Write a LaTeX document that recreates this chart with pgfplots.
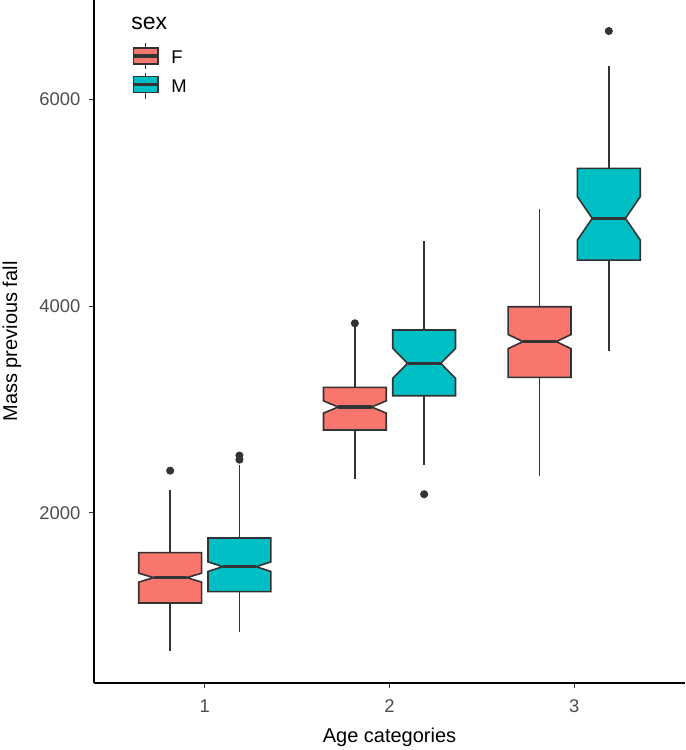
\documentclass[border=0pt]{standalone}
\usepackage{pgfplots}
\pgfplotsset{compat=1.18}
\usepackage{fontspec}
\setmainfont{Liberation Sans}
\definecolor{colF}{HTML}{F8766D}
\definecolor{colM}{HTML}{00BFC4}
\definecolor{gray20}{HTML}{333333}
\definecolor{gray30}{HTML}{4D4D4D}
\begin{document}
\begin{tikzpicture}[
  wsk/.style={gray20, line width=0.8pt, mark=none},
  boxF/.style={draw=gray20, fill=colF, line width=0.8pt, mark=none},
  boxM/.style={draw=gray20, fill=colM, line width=0.8pt, mark=none},
  med/.style={gray20, line width=1.6pt, mark=none},
  outl/.style={only marks, mark=*, mark size=1.8pt, gray20, mark options={fill=gray20, draw=gray20}},
]
\begin{axis}[
  scale only axis, width=295.5pt, height=341.5pt,
  xmin=0.4, xmax=3.6, ymin=357, ymax=6957,
  axis x line=bottom, axis y line=left,
  axis line style={-, black, line width=0.9pt},
  xtick={1,2,3}, ytick={2000,4000,6000},
  tick align=outside, major tick length=2.6pt,
  tick style={gray20, line width=0.5pt},
  /pgf/number format/assume math mode=true,
  scaled y ticks=false,
  yticklabel={\pgfmathprintnumber[fixed, 1000 sep={}]{\tick}},
  tick label style={font=\fontsize{9.2}{10}\selectfont, text=gray30},
  yticklabel style={anchor=east, inner sep=0pt, xshift=-4pt},
  xticklabel style={anchor=north, inner sep=0pt, yshift=-5.5pt},
  xlabel={Age categories}, ylabel={Mass previous fall},
  label style={font=\fontsize{11.5}{13}\selectfont},
  every axis x label/.style={at={(axis description cs:0.5,-0.0791)}, anchor=center},
  every axis y label/.style={at={(axis description cs:-0.1387,0.5)}, anchor=center, rotate=90},
  clip=false,
]
% ---- age 1, F
\addplot[wsk] coordinates {(0.8125,1617) (0.8125,2222)};
\addplot[wsk] coordinates {(0.8125,670) (0.8125,1130)};
\addplot[boxF] coordinates {(0.6425,1130) (0.6425,1332) (0.7225,1375) (0.6425,1418) (0.6425,1617) (0.9825,1617) (0.9825,1418) (0.9025,1375) (0.9825,1332) (0.9825,1130)} -- cycle;
\addplot[med] coordinates {(0.7225,1375) (0.9025,1375)};
\addplot[outl] coordinates {(0.8125,2409)};
% ---- age 1, M
\addplot[wsk] coordinates {(1.1875,1758) (1.1875,2464)};
\addplot[wsk] coordinates {(1.1875,853) (1.1875,1240)};
\addplot[boxM] coordinates {(1.0175,1240) (1.0175,1435) (1.0975,1481) (1.0175,1527) (1.0175,1758) (1.3575,1758) (1.3575,1527) (1.2775,1481) (1.3575,1435) (1.3575,1240)} -- cycle;
\addplot[med] coordinates {(1.0975,1481) (1.2775,1481)};
\addplot[outl] coordinates {(1.1875,2515) (1.1875,2555)};
% ---- age 2, F
\addplot[wsk] coordinates {(1.8125,3214) (1.8125,3805)};
\addplot[wsk] coordinates {(1.8125,2328) (1.8125,2802)};
\addplot[boxF] coordinates {(1.6425,2802) (1.6425,2965) (1.7225,3024) (1.6425,3083) (1.6425,3214) (1.9825,3214) (1.9825,3083) (1.9025,3024) (1.9825,2965) (1.9825,2802)} -- cycle;
\addplot[med] coordinates {(1.7225,3024) (1.9025,3024)};
\addplot[outl] coordinates {(1.8125,3833)};
% ---- age 2, M
\addplot[wsk] coordinates {(2.1875,3768) (2.1875,4628)};
\addplot[wsk] coordinates {(2.1875,2464) (2.1875,3133)};
\addplot[boxM] coordinates {(2.0175,3133) (2.0175,3301) (2.0975,3446) (2.0175,3591) (2.0175,3768) (2.3575,3768) (2.3575,3591) (2.2775,3446) (2.3575,3301) (2.3575,3133)} -- cycle;
\addplot[med] coordinates {(2.0975,3446) (2.2775,3446)};
\addplot[outl] coordinates {(2.1875,2181)};
% ---- age 3, F
\addplot[wsk] coordinates {(2.8125,3993) (2.8125,4940)};
\addplot[wsk] coordinates {(2.8125,2357) (2.8125,3311)};
\addplot[boxF] coordinates {(2.6425,3311) (2.6425,3588) (2.7225,3656) (2.6425,3724) (2.6425,3993) (2.9825,3993) (2.9825,3724) (2.9025,3656) (2.9825,3588) (2.9825,3311)} -- cycle;
\addplot[med] coordinates {(2.7225,3656) (2.9025,3656)};
% ---- age 3, M
\addplot[wsk] coordinates {(3.1875,5330) (3.1875,6322)};
\addplot[wsk] coordinates {(3.1875,3565) (3.1875,4444)};
\addplot[boxM] coordinates {(3.0175,4444) (3.0175,4638) (3.0975,4847) (3.0175,5056) (3.0175,5330) (3.3575,5330) (3.3575,5056) (3.2775,4847) (3.3575,4638) (3.3575,4444)} -- cycle;
\addplot[med] coordinates {(3.0975,4847) (3.2775,4847)};
\addplot[outl] coordinates {(3.1875,6657)};
\end{axis}
% ---- legend
\begin{scope}[shift={(current axis.north west)}]
  \node[anchor=west, inner sep=0pt, font=\fontsize{11.5}{13}\selectfont] at (18.5pt,-11.5pt) {sex};
  \draw[gray20, line width=0.8pt] (25.75pt,-21.35pt) -- (25.75pt,-34.5pt);
  \draw[gray20, fill=colF, line width=0.8pt] (19.65pt,-24pt) rectangle (31.85pt,-32pt);
  \draw[gray20, line width=1.6pt] (19.65pt,-28pt) -- (31.85pt,-28pt);
  \node[anchor=west, inner sep=0pt, font=\fontsize{9.2}{10}\selectfont] at (38.5pt,-28.5pt) {F};
  \draw[gray20, line width=0.8pt] (25.75pt,-36.5pt) -- (25.75pt,-49.5pt);
  \draw[gray20, fill=colM, line width=0.8pt] (19.65pt,-38.35pt) rectangle (31.85pt,-46.35pt);
  \draw[gray20, line width=1.6pt] (19.65pt,-42.35pt) -- (31.85pt,-42.35pt);
  \node[anchor=west, inner sep=0pt, font=\fontsize{9.2}{10}\selectfont] at (38.5pt,-43pt) {M};
\end{scope}
\pgfresetboundingbox
\path (current axis.south west) ++(-47pt,-33.5pt) coordinate (bbsw);
\useasboundingbox (bbsw) rectangle (current axis.north east);
\end{tikzpicture}
\end{document}
